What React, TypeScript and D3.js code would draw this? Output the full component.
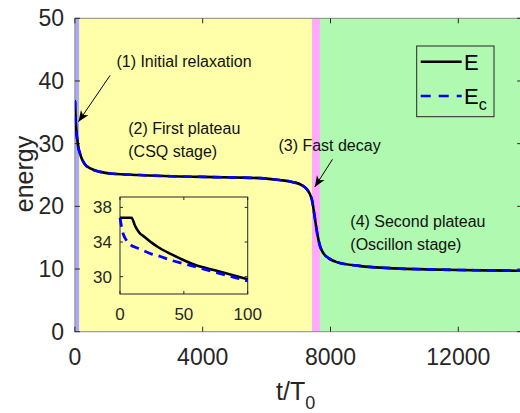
import React from "react";
import * as d3 from "d3";

// ---- data ----
const tInset = [0, 2, 5, 9, 12, 15, 20, 25, 30, 40, 50, 60, 70, 80, 90, 100];
const eInset = [36.8, 36.8, 36.8, 36.8, 35.8, 35.1, 34.5, 33.9, 33.4, 32.6, 31.9, 31.3, 30.9, 30.5, 30.1, 29.7];
const ecInset = [36.8, 35.2, 34.2, 33.6, 33.4, 33.2, 32.9, 32.6, 32.4, 31.9, 31.5, 31.1, 30.7, 30.3, 29.9, 29.5];

const tLate = [150, 200, 300, 500, 800, 1200, 2000, 3000, 4000, 5000, 5800, 6400, 6800, 7100, 7250, 7350, 7420, 7500, 7580, 7670, 7780, 7950, 8200, 8900, 10000, 11000, 12000, 13000, 14000];
const eLate = [28.6, 27.8, 26.8, 26.0, 25.5, 25.2, 25.0, 24.8, 24.7, 24.6, 24.5, 24.2, 23.9, 23.4, 22.8, 22.0, 21.0, 18.5, 15.8, 13.7, 12.5, 11.7, 11.1, 10.5, 10.1, 9.95, 9.85, 9.78, 9.72];
const ecLate = eLate;

const bandStarts = [0, 140, 7420, 7670];
const bandEnds = [140, 7420, 7670, 14000];
const bandColors = ["#aaaaf5", "#ffffaa", "#ffaaff", "#b0f9b0"];

const xTicks = [0, 4000, 8000, 12000];
const yTicks = [0, 10, 20, 30, 40, 50];
const insetXTicks = [0, 50, 100];
const insetYTicks = [30, 34, 38];

const annotations = [
  { lines: ["(1) Initial relaxation"], t: 1300, e: 42.3 },
  { lines: ["(2) First plateau", "(CSQ stage)"], t: 1670, e: 31.5 },
  { lines: ["(3) Fast decay"], t: 6370, e: 28.8 },
  { lines: ["(4) Second plateau", "(Oscillon stage)"], t: 8620, e: 16.7 },
];
const arrows = [
  { t0: 1103, e0: 40.9, t1: 112, e1: 33.5 },
  { t0: 8062, e0: 27.5, t1: 7509, e1: 23.1 },
];

const FONT = "'Liberation Sans', Arial, Helvetica, sans-serif";
const TXT = "#262626";

export default function App() {
  const W = 520, H = 413;
  const x = d3.scaleLinear().domain([0, 14000]).range([74.9, 522.2]);
  const y = d3.scaleLinear().domain([0, 50]).range([331.7, 18.3]);
  const left = x(0), right = x(14000), top = y(50), bottom = y(0);

  const tAll = tInset.concat(tLate);
  const eAll = eInset.concat(eLate);
  const ecAll = ecInset.concat(ecLate);

  const line = d3.line<number>().curve(d3.curveMonotoneX);
  const mainE = line(tAll.map((t, i) => [x(t), y(eAll[i])]) as any);
  const mainEc = line(tAll.map((t, i) => [x(t), y(ecAll[i])]) as any);

  const ix = d3.scaleLinear().domain([0, 100]).range([120, 247.7]);
  const iy = d3.scaleLinear().domain([28, 39.2]).range([294, 197]);
  const insE = line(tInset.map((t, i) => [ix(t), iy(eInset[i])]) as any);
  const insEc = line(tInset.map((t, i) => [ix(t), iy(ecInset[i])]) as any);

  const arrowHead = (x0: number, y0: number, x1: number, y1: number) => {
    const a = Math.atan2(y1 - y0, x1 - x0);
    const L = 11, Wd = 4.5, N = 8;
    const cx = Math.cos(a), sx = Math.sin(a);
    const p = (u: number, v: number) => [x1 - u * cx - v * sx, y1 - u * sx + v * cx];
    const pts = [p(0, 0), p(L, Wd), p(N, 0), p(L, -Wd)];
    return "M" + pts.map((q) => q.join(",")).join("L") + "Z";
  };

  return (
    <svg width={W} height={H} style={{ position: "absolute", left: 0, top: 0, background: "#fff" }} fontFamily={FONT}>
      <defs>
        <clipPath id="plotClip">
          <rect x={left} y={top} width={right - left} height={bottom - top} />
        </clipPath>
      </defs>
      {/* bands */}
      {bandStarts.map((s, i) => (
        <rect key={i} x={x(s)} y={top} width={x(bandEnds[i]) - x(s)} height={bottom - top} fill={bandColors[i]} />
      ))}
      {/* box */}
      <rect x={left} y={top} width={right - left} height={bottom - top} fill="none" stroke="#858a85" strokeWidth={1} />
      {/* ticks */}
      {xTicks.map((t) => (
        <g key={"xt" + t}>
          <line x1={x(t)} x2={x(t)} y1={bottom} y2={bottom - 5} stroke={TXT} />
          <line x1={x(t)} x2={x(t)} y1={top} y2={top + 5} stroke={TXT} />
          <text x={x(t)} y={365} fontSize={23} textAnchor="middle" fill={TXT}>{t}</text>
        </g>
      ))}
      {yTicks.map((v) => (
        <g key={"yt" + v}>
          <line x1={left} x2={left + 5} y1={y(v)} y2={y(v)} stroke={TXT} />
          <line x1={right} x2={right - 5} y1={y(v)} y2={y(v)} stroke={TXT} />
          <text x={64} y={y(v)} dy="0.35em" fontSize={23} textAnchor="end" fill={TXT}>{v}</text>
        </g>
      ))}
      {/* axis labels */}
      <text transform={`translate(33,174) rotate(-90)`} fontSize={25} textAnchor="middle" fill={TXT}>energy</text>
      <text x={276} y={400} fontSize={25} fill={TXT}>
        t/T<tspan fontSize={18} dy={9}>0</tspan>
      </text>

      {/* main curves */}
      <g clipPath="url(#plotClip)">
        <path d={mainE || ""} fill="none" stroke="#000" strokeWidth={2.6} />
        <path d={mainEc || ""} fill="none" stroke="#0000ff" strokeWidth={2.6} strokeDasharray="9,6" />
      </g>

      {/* annotations */}
      {annotations.map((a, i) => (
        <text key={"an" + i} x={x(a.t)} y={y(a.e)} fontSize={16} fill="#111">
          {a.lines.map((l, j) => (
            <tspan key={j} x={x(a.t)} dy={j === 0 ? 0 : 22.5}>{l}</tspan>
          ))}
        </text>
      ))}
      {arrows.map((a, i) => {
        const x0 = x(a.t0), y0 = y(a.e0), x1 = x(a.t1), y1 = y(a.e1);
        return (
          <g key={"ar" + i}>
            <line x1={x0} y1={y0} x2={x1} y2={y1} stroke="#000" strokeWidth={1} />
            <path d={arrowHead(x0, y0, x1, y1)} fill="#000" />
          </g>
        );
      })}

      {/* legend */}
      <rect x={416.7} y={46} width={77.3} height={70.7} fill="none" stroke={TXT} strokeWidth={1} />
      <line x1={420.7} x2={461.7} y1={61.7} y2={61.7} stroke="#000" strokeWidth={2.6} />
      <text x={464} y={70} fontSize={22} fill="#000">E</text>
      <line x1={420.7} x2={461.7} y1={96} y2={96} stroke="#0000ff" strokeWidth={2.6} strokeDasharray="10,8" />
      <text x={464} y={104} fontSize={22} fill="#000">E<tspan fontSize={16} dy={6}>c</tspan></text>

      {/* inset */}
      <rect x={ix(0)} y={iy(39.2)} width={ix(100) - ix(0)} height={iy(28) - iy(39.2)} fill="none" stroke={TXT} strokeWidth={1} />
      {insetXTicks.map((t) => (
        <g key={"ixt" + t}>
          <line x1={ix(t)} x2={ix(t)} y1={iy(28)} y2={iy(28) - 3} stroke={TXT} />
          <line x1={ix(t)} x2={ix(t)} y1={iy(39.2)} y2={iy(39.2) + 3} stroke={TXT} />
          <text x={ix(t)} y={320} fontSize={17} textAnchor="middle" fill={TXT}>{t}</text>
        </g>
      ))}
      {insetYTicks.map((v) => (
        <g key={"iyt" + v}>
          <line x1={ix(0)} x2={ix(0) + 3} y1={iy(v)} y2={iy(v)} stroke={TXT} />
          <line x1={ix(100)} x2={ix(100) - 3} y1={iy(v)} y2={iy(v)} stroke={TXT} />
          <text x={112} y={iy(v)} dy="0.35em" fontSize={17} textAnchor="end" fill={TXT}>{v}</text>
        </g>
      ))}
      <path d={insE || ""} fill="none" stroke="#000" strokeWidth={2.6} />
      <path d={insEc || ""} fill="none" stroke="#0000ff" strokeWidth={2.8} strokeDasharray="9,6" />
    </svg>
  );
}
